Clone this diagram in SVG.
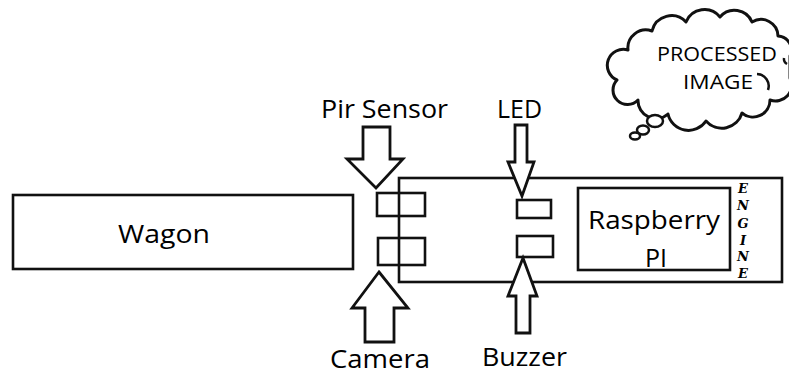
<svg xmlns="http://www.w3.org/2000/svg" width="789" height="376" viewBox="0 0 789 376">
<style>
.box{fill:none;stroke:#111;stroke-width:2.6}
.arr{fill:#fff;stroke:#111;stroke-width:2.8;stroke-linejoin:miter}
.lbl{font-family:"Open Sans","Liberation Sans",sans-serif;font-size:25px;fill:#000;text-anchor:middle}
.cl{font-family:"Open Sans","Liberation Sans",sans-serif;font-size:19.5px;fill:#000;text-anchor:middle}
.eng{font-family:"DejaVu Serif","Liberation Serif",serif;font-size:13px;font-weight:bold;font-style:italic;fill:#000;text-anchor:middle}
</style>
<rect width="789" height="376" fill="#fff"/>
<g id="wagon">
<rect class="box" x="13" y="195" width="340" height="74"/>
<text class="lbl" x="164" y="243" textLength="92" lengthAdjust="spacingAndGlyphs">Wagon</text>
</g>
<g id="engine">
<rect class="box" x="399" y="178" width="383" height="104"/>
<text class="eng" x="743" y="193">E</text>
<text class="eng" x="743" y="210">N</text>
<text class="eng" x="743" y="228">G</text>
<text class="eng" x="743" y="245">I</text>
<text class="eng" x="743" y="261">N</text>
<text class="eng" x="743" y="278">E</text>
</g>
<g id="raspberry-pi">
<rect class="box" x="578" y="188" width="152" height="82"/>
<text class="lbl" x="654" y="229" textLength="132" lengthAdjust="spacingAndGlyphs">Raspberry</text>
<text class="lbl" x="656" y="267" font-size="26" textLength="22" lengthAdjust="spacingAndGlyphs">PI</text>
</g>
<g id="pir-box"><rect class="box" x="377" y="193" width="48" height="23"/></g>
<g id="camera-box"><rect class="box" x="378" y="238" width="47" height="27"/></g>
<g id="led-box"><rect class="box" x="517" y="200" width="34" height="18"/></g>
<g id="buzzer-box"><rect class="box" x="517" y="236" width="36" height="21"/></g>
<g id="connectors">
<polygon class="arr" points="363,127 390,127 390,159 403,159 376,188 347,159 363,159"/>
<polygon class="arr" points="379,272 408,308 394,308 394,342 365,342 365,308 352,308"/>
<polygon class="arr" points="515,125 527,125 527,162 534,162 522,196 508,162 515,162"/>
<polygon class="arr" points="523,258 537,296 530,296 530,333 516,333 516,296 508,296"/>
</g>
<g id="pir-sensor"><text class="lbl" x="384.5" y="118" textLength="127" lengthAdjust="spacingAndGlyphs">Pir Sensor</text></g>
<g id="led"><text class="lbl" x="519.5" y="118" textLength="45" lengthAdjust="spacingAndGlyphs">LED</text></g>
<g id="camera"><text class="lbl" x="380" y="368" textLength="100" lengthAdjust="spacingAndGlyphs">Camera</text></g>
<g id="buzzer"><text class="lbl" x="524.5" y="366" textLength="85" lengthAdjust="spacingAndGlyphs">Buzzer</text></g>
<g id="processed-image">
<path fill="#fff" stroke="#111" stroke-width="3" stroke-linejoin="round" d="M617,80 A16,16 0 0 1 628,50 A18,18 0 0 1 652,31 A20,20 0 0 1 686,22 A20,20 0 0 1 720,17 A19,19 0 0 1 752,22 A17,17 0 0 1 778,36 A14,14 0 0 1 790,56 L790,78 A16,16 0 0 1 770,100 A17,17 0 0 1 742,113 A21,21 0 0 1 706,121 A21,21 0 0 1 668,114 A18,18 0 0 1 638,100 A14,14 0 0 1 617,80 Z"/>
<path fill="none" stroke="#111" stroke-width="2.5" d="M757,74 A12,12 0 0 1 768,90"/>
<path fill="none" stroke="#111" stroke-width="2.5" d="M784,58 A6,6 0 0 0 787,64"/>
<ellipse cx="655" cy="121" rx="8" ry="6" fill="#fff" stroke="#111" stroke-width="2.5"/>
<ellipse cx="643" cy="130" rx="6" ry="4.5" fill="#fff" stroke="#111" stroke-width="2.5"/>
<ellipse cx="635" cy="136" rx="5" ry="3.5" fill="#fff" stroke="#111" stroke-width="2.5"/>
<text class="cl" x="717" y="61" textLength="120" lengthAdjust="spacingAndGlyphs">PROCESSED</text>
<text class="cl" x="718" y="89" textLength="70" lengthAdjust="spacingAndGlyphs">IMAGE</text>
</g>
</svg>
